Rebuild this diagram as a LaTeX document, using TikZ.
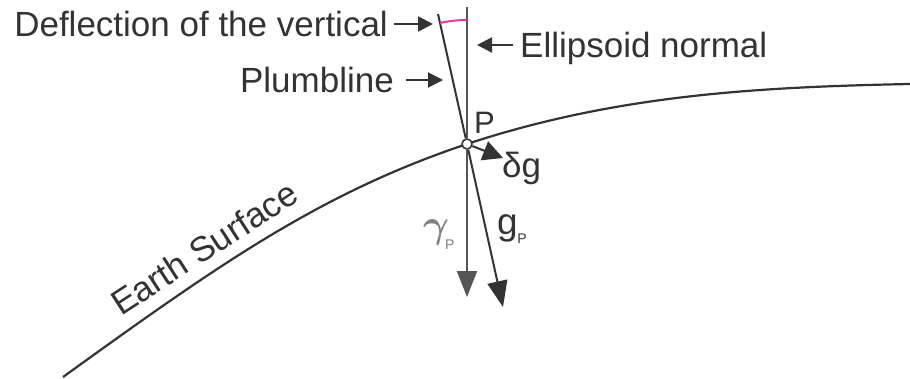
\documentclass[tikz,border=0pt]{standalone}
\usepackage{amsmath}
\usepackage{graphicx}
\usepackage{fontspec}
\setmainfont{Liberation Sans}
\usetikzlibrary{arrows.meta,calc}
\definecolor{ink}{HTML}{333333}
\definecolor{vgray}{HTML}{555555}
\definecolor{lgray}{HTML}{808080}
\definecolor{arcmag}{HTML}{E33A9A}
\begin{document}
\begin{tikzpicture}[x=1pt,y=-1pt,
  lbl/.style={font=\fontsize{35}{40}\selectfont, text=ink, inner sep=0pt},
  ln/.style={draw=ink, line width=2pt},
  bigtip/.style={-{Triangle[length=26pt,width=20pt]}},
  smalltip/.style={-{Triangle[length=15pt,width=15pt]}}]
\useasboundingbox (0,0) rectangle (910,378);

% Earth surface
\coordinate (Pc) at (467,144);
\draw[ln, line width=2.2pt] (63,377) .. controls (213,269) and (317,194) .. (Pc)
  .. controls (617,94.5) and (760,87) .. (910,84);
\node[lbl, rotate=33] (es) at (204,248) {Earth Surface};

% point P
\node[circle, draw=ink, fill=white, line width=1.5pt, minimum size=10pt, inner sep=0pt] (P) at (Pc) {};
\node[lbl, font=\fontsize{31}{36}\selectfont, anchor=base west] (Plab) at (474,133) {P};

\coordinate (ntop) at (467,7);
\coordinate (ntip) at (467,297);
\coordinate (ptop) at (438,14);
\coordinate (ptip) at (503,307);
\coordinate (dgtip) at (503,158);

% ellipsoid normal
\draw[ln, draw=vgray] (ntop) -- (P);
\draw[ln, draw=vgray, bigtip] (P) -- (ntip);
% plumbline
\draw[ln] (ptop) -- (P);
\draw[ln, bigtip] (P) -- (ptip);
% delta g
\draw[ln, -{Triangle[length=20pt,width=20pt]}] (P) -- (dgtip);

% deflection arc
\draw[arcmag, line width=2pt] ($(P.center)+(-102.6:124)$) arc[start angle=-102.6, end angle=-90, radius=124];

% labels
\node[lbl, anchor=base east] (defl) at (388,36) {Deflection of the vertical};
\coordinate (dtip) at (433,24);
\draw[ln, smalltip] ([xshift=6pt]defl.east |- dtip) -- (dtip);

\node[lbl, anchor=base west] (ell) at (520,57) {Ellipsoid normal};
\coordinate (etail) at (513,45);
\coordinate (etip) at (477,45);
\draw[ln, smalltip] (etail) -- (etip);

\node[lbl, anchor=base east] (plumb) at (394,92) {Plumbline};
\coordinate (ptail) at (406,80);
\coordinate (ptipl) at (443,80);
\draw[ln, smalltip] (ptail) -- (ptipl);

\node[lbl, anchor=base west] (dg) at (502,177) {δg};

\node[lbl, text=lgray, anchor=base west] (gam) at (423,237)
  {\fontsize{24.88}{28}\selectfont\scalebox{1.6}{$\boldsymbol{\gamma}$}\kern-4pt\raisebox{-12pt}{\fontsize{14}{16}\selectfont P}};
\node[lbl, text=ink, anchor=base west] (gp) at (497,234)
  {\fontsize{37}{40}\selectfont g\kern-0.5pt\raisebox{-9pt}{\fontsize{14}{16}\selectfont P}};
\end{tikzpicture}
\end{document}
